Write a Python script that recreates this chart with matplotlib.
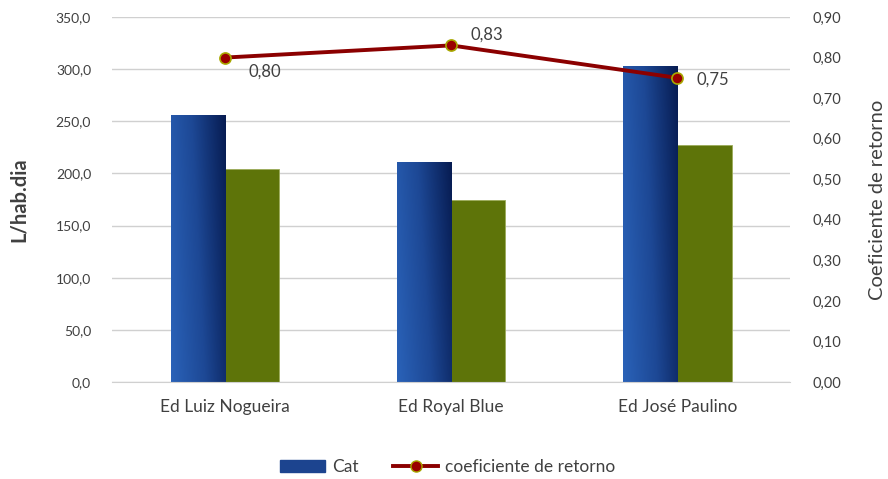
import numpy as np
import matplotlib
matplotlib.use("Agg")
import matplotlib.pyplot as plt
from matplotlib.ticker import FuncFormatter, MultipleLocator
from matplotlib.patches import Patch
from matplotlib.lines import Line2D
from matplotlib.colors import LinearSegmentedColormap

plt.rcParams['font.family'] = ['Lato', 'DejaVu Sans']

categories = ["Ed Luiz Nogueira", "Ed Royal Blue", "Ed José Paulino"]
cat_values = [256.0, 211.0, 303.0]
second_values = [204.0, 174.5, 227.0]
coef_values = [0.80, 0.83, 0.75]
coef_labels = ["0,80", "0,83", "0,75"]

TEXT = "#404040"
GRID = "#d0d0d0"

fig = plt.figure(figsize=(8.88, 4.79), dpi=100)
ax = fig.add_axes([0.126, 0.2025, 0.764, 0.762])
ax2 = ax.twinx()

x = np.arange(len(categories))
w = 0.24

blue_cmap = LinearSegmentedColormap.from_list("blue", ["#2a62b8", "#1d4895", "#071c52"])
bars = ax.bar(x - w / 2, cat_values, w, color="#1c448f", edgecolor="#8aa0c8",
              linewidth=0.6, zorder=2)
ax.bar(x + w / 2, second_values, w, color="#5e7409", edgecolor="#9bab5a",
       linewidth=0.6, zorder=2)

ax.set_xlim(-0.5, 2.5)
ax.set_ylim(0, 350)

# diagonal gradient fill for the blue bars
gy, gx = np.mgrid[0:1:60j, 0:1:60j]
grad = gx * 0.8 + gy * 0.2
for b in bars:
    x0, y0 = b.get_x(), b.get_y()
    im = ax.imshow(grad, cmap=blue_cmap, aspect="auto", origin="lower",
                   extent=[x0, x0 + b.get_width(), y0, y0 + b.get_height()],
                   zorder=2.1, interpolation="bilinear")
    im.set_clip_path(b)
ax.set_xlim(-0.5, 2.5)
ax.set_ylim(0, 350)

ax.yaxis.set_major_locator(MultipleLocator(50))
ax.yaxis.set_major_formatter(FuncFormatter(lambda v, p: f"{v:.1f}".replace(".", ",")))
ax.grid(axis="y", color=GRID, linewidth=1, zorder=0)
ax.set_axisbelow(True)
ax.set_xticks(x)
ax.set_xticklabels(categories)
for s in ["left", "right", "top"]:
    ax.spines[s].set_visible(False)
ax.spines["bottom"].set_color(GRID)
ax.tick_params(axis="y", length=0, pad=15, labelsize=10, labelcolor=TEXT)
ax.tick_params(axis="x", length=0, pad=12, labelsize=12.5, labelcolor=TEXT)
ax.set_ylabel("L/hab.dia", fontsize=14.5, fontweight="bold", color=TEXT, labelpad=19)

ax2.plot(x, coef_values, color="#8b0000", linewidth=2.8, marker="o", markersize=8,
         markerfacecolor="#9a0000", markeredgecolor="#a8a800", markeredgewidth=1.2,
         zorder=5)
ax2.set_ylim(0, 0.9)
ax2.yaxis.set_major_locator(MultipleLocator(0.1))
ax2.yaxis.set_major_formatter(FuncFormatter(lambda v, p: f"{v:.2f}".replace(".", ",")))
for s in ["left", "right", "top", "bottom"]:
    ax2.spines[s].set_visible(False)
ax2.tick_params(axis="y", length=0, pad=16, labelsize=10.5, labelcolor=TEXT)
ax2.set_ylabel("Coeficiente de retorno", fontsize=14.5, color=TEXT, labelpad=20)

offsets = [(17, -10), (14, 8), (14, -1)]
for xi, v, lab, off in zip(x, coef_values, coef_labels, offsets):
    ax2.annotate(lab, (xi, v), xytext=off, textcoords="offset points",
                 ha="left", va="center", fontsize=12, color=TEXT)

handles = [Patch(facecolor="#1c448f", edgecolor="#1c448f"),
           Line2D([0], [0], color="#8b0000", linewidth=2.8, marker="o", markersize=8,
                  markerfacecolor="#9a0000", markeredgecolor="#a8a800")]
fig.legend(handles, ["Cat", "coeficiente de retorno"], loc="center",
           bbox_to_anchor=(0.504, 0.025), ncol=2, frameon=False, fontsize=12.5,
           labelcolor=TEXT, handlelength=2.6, handletextpad=0.4, columnspacing=2.0)

fig.savefig("out.png", dpi=100)
